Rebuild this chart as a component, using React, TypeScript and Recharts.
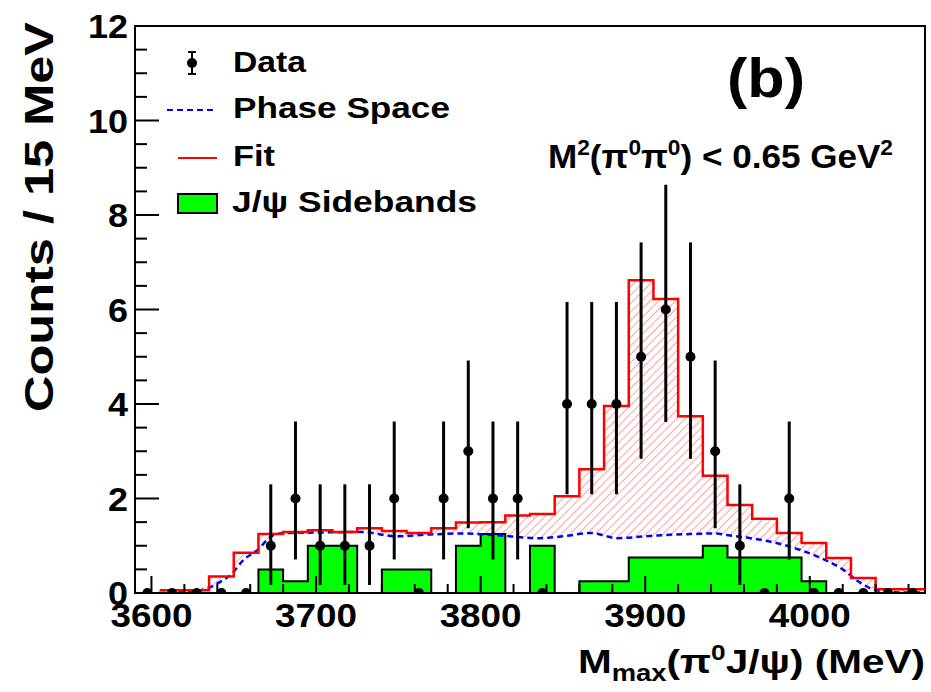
import React from "react";
import {
  ComposedChart,
  Area,
  Line,
  Scatter,
  ErrorBar,
  XAxis,
  YAxis,
  ReferenceArea,
} from "recharts";

// 15 MeV bins, M_max(pi0 J/psi)
const binEdges = [
  3590, 3605, 3620, 3635, 3650, 3665, 3680, 3695, 3710, 3725, 3740, 3755, 3770,
  3785, 3800, 3815, 3830, 3845, 3860, 3875, 3890, 3905, 3920, 3935, 3950, 3965,
  3980, 3995, 4010, 4025, 4040, 4055, 4070,
];

const counts = [
  0, 0, 0, 0, 0, 1, 2, 1, 1, 1, 2, 0, 2, 3, 2, 2, 0, 4, 4, 4, 5, 6, 5, 3, 1, 0,
  2, 0, 0, 0, 0, 0,
];
const errLow = [
  0, 0, 0, 0, 0, 0.83, 1.29, 0.83, 0.83, 0.83, 1.29, 0, 1.29, 1.63, 1.29, 1.29,
  0, 1.91, 1.91, 1.91, 2.16, 2.38, 2.16, 1.63, 0.83, 0, 1.29, 0, 0, 0, 0, 0,
];
const errHigh = [
  0, 0, 0, 0, 0, 1.3, 1.63, 1.3, 1.3, 1.3, 1.63, 0, 1.63, 1.92, 1.63, 1.63, 0,
  2.16, 2.16, 2.16, 2.42, 2.64, 2.42, 1.92, 1.3, 0, 1.63, 0, 0, 0, 0, 0,
];

const fitValues = [
  null, 0.06, 0.06, 0.35, 0.85, 1.25, 1.29, 1.33, 1.29, 1.37, 1.31, 1.27, 1.37,
  1.49, 1.5, 1.64, 1.67, 2.05, 2.62, 3.96, 6.62, 6.22, 3.74, 2.48, 1.86, 1.57,
  1.27, 1.06, 0.74, 0.32, 0.08, 0.08,
];

const sidebandValues = [
  0, 0, 0, 0, 0, 0.5, 0.25, 1, 1, 0, 0.5, 0.5, 0, 1, 1.25, 0, 1, 0, 0.25, 0.25,
  0.75, 0.75, 0.75, 1, 0.75, 0.75, 0.75, 0.25, 0, 0, 0, 0,
];

const psMass = [
  3604, 3620, 3630, 3634, 3641, 3648, 3656, 3665, 3672, 3678, 3700, 3728, 3749,
  3770, 3789, 3810, 3836, 3850, 3867, 3883, 3900, 3913, 3930, 3941, 3955, 3964,
  3984, 4004, 4020, 4031, 4041, 4055, 4070,
];
const psValue = [
  0, 0.02, 0.06, 0.1, 0.22, 0.38, 0.7, 0.93, 1.18, 1.26, 1.28, 1.29, 1.2, 1.24,
  1.26, 1.22, 1.16, 1.2, 1.27, 1.16, 1.2, 1.23, 1.25, 1.26, 1.2, 1.16, 1.02,
  0.78, 0.5, 0.21, 0.05, 0.01, 0.01,
];

const xTicks = [
  3600, 3620, 3640, 3660, 3680, 3700, 3720, 3740, 3760, 3780, 3800, 3820, 3840,
  3860, 3880, 3900, 3920, 3940, 3960, 3980, 4000, 4020, 4040, 4060,
];
const yTicks = [
  0, 0.5, 1, 1.5, 2, 2.5, 3, 3.5, 4, 4.5, 5, 5.5, 6, 6.5, 7, 7.5, 8, 8.5, 9,
  9.5, 10, 10.5, 11, 11.5, 12,
];

const FONT = "'Liberation Sans', Arial, Helvetica, sans-serif";

// histogram as step series (last edge repeats last bin)
const toSteps = (vals: (number | null)[]) =>
  binEdges.map((x, i) => ({ x, y: i < vals.length ? vals[i] : vals[vals.length - 1] }));

const fitSteps = toSteps(fitValues);
const sidebandSteps = toSteps(sidebandValues);
const phaseSpace = psMass.map((x, i) => ({ x, y: psValue[i] }));
const dataPoints = counts.map((c, i) => ({
  x: (binEdges[i] + binEdges[i + 1]) / 2,
  y: c,
  err: [errLow[i], errHigh[i]],
}));

const YTick = (props: any) => {
  const { x, y, payload } = props;
  const v = payload.value;
  const major = v % 2 === 0;
  return (
    <g>
      <line x1={x} x2={x + (major ? 24 : 12)} y1={y} y2={y} stroke="#000" strokeWidth={2} />
      {major && (
        <text
          x={x - 7}
          y={y + 12}
          textAnchor="end"
          fontFamily={FONT}
          fontWeight="bold"
          fontSize={33}
          textLength={20 * String(v).length}
          lengthAdjust="spacingAndGlyphs"
          fill="#000"
        >
          {v}
        </text>
      )}
    </g>
  );
};

const XTick = (props: any) => {
  const { x, y, payload } = props;
  const v = payload.value;
  const major = v % 100 === 0;
  return (
    <g>
      <line x1={x} x2={x} y1={y} y2={y - (major ? 17 : 9)} stroke="#000" strokeWidth={2} />
      {major && (
        <text
          x={x}
          y={y + 34}
          textAnchor="middle"
          fontFamily={FONT}
          fontWeight="bold"
          fontSize={33}
          textLength={82}
          lengthAdjust="spacingAndGlyphs"
          fill="#000"
        >
          {v}
        </text>
      )}
    </g>
  );
};

const Dot = (p: any) => <circle cx={p.cx} cy={p.cy} r={5} fill="#000" />;

export default function App() {
  const txt = { fontFamily: FONT, fontWeight: "bold" as const, fill: "#000" };
  return (
    <div style={{ position: "absolute", left: 0, top: 0, width: 931, height: 692, background: "#fff" }}>
      <svg width={0} height={0} style={{ position: "absolute" }}>
        <defs>
          <pattern id="hatch" width={6} height={6} patternUnits="userSpaceOnUse" patternTransform="rotate(45)">
            <line x1={0} y1={0} x2={0} y2={6} stroke="#ff6060" strokeWidth={1.2} />
          </pattern>
        </defs>
      </svg>
      <ComposedChart width={931} height={692} margin={{ top: 26, right: 6, bottom: 0, left: 0 }}>
        <XAxis
          dataKey="x"
          type="number"
          domain={[3590, 4070]}
          allowDataOverflow
          ticks={xTicks}
          interval={0}
          tickSize={0}
          tickMargin={0}
          tickLine={false}
          tick={<XTick />}
          height={99}
          axisLine={{ stroke: "#000", strokeWidth: 2 }}
        />
        <YAxis
          type="number"
          domain={[0, 12]}
          allowDataOverflow
          ticks={yTicks}
          interval={0}
          tickSize={0}
          tickMargin={0}
          tickLine={false}
          tick={<YTick />}
          width={135}
          axisLine={{ stroke: "#000", strokeWidth: 2 }}
        />
        <Area
          data={fitSteps}
          dataKey="y"
          type="stepAfter"
          fill="url(#hatch)"
          fillOpacity={1}
          stroke="none"
          isAnimationActive={false}
        />
        <Area
          data={phaseSpace}
          dataKey="y"
          type="monotone"
          fill="#fff"
          fillOpacity={1}
          stroke="none"
          isAnimationActive={false}
        />
        <Area
          data={sidebandSteps}
          dataKey="y"
          type="stepAfter"
          fill="#00ff00"
          fillOpacity={1}
          stroke="#000"
          strokeWidth={2}
          isAnimationActive={false}
        />
        <Line
          data={phaseSpace}
          dataKey="y"
          type="monotone"
          stroke="#0000ff"
          strokeWidth={2.5}
          strokeDasharray="6 4"
          dot={false}
          isAnimationActive={false}
        />
        <Line
          data={fitSteps}
          dataKey="y"
          type="stepAfter"
          stroke="#ff0000"
          strokeWidth={2.5}
          dot={false}
          isAnimationActive={false}
        />
        <Scatter data={dataPoints} dataKey="y" shape={<Dot />} isAnimationActive={false}>
          <ErrorBar dataKey="err" direction="y" width={0} stroke="#000" strokeWidth={3} />
        </Scatter>
        <ReferenceArea
          x1={3590}
          x2={4070}
          y1={0}
          y2={12}
          fill="none"
          fillOpacity={0}
          stroke="#000"
          strokeWidth={2}
          ifOverflow="visible"
        />
      </ComposedChart>

      {/* legend, labels and titles */}
      <svg
        width={931}
        height={692}
        style={{ position: "absolute", left: 0, top: 0, pointerEvents: "none" }}
      >
        {/* legend */}
        <line x1={192} x2={192} y1={52} y2={74} stroke="#000" strokeWidth={2} />
        <line x1={188} x2={196} y1={52} y2={52} stroke="#000" strokeWidth={2} />
        <line x1={188} x2={196} y1={74} y2={74} stroke="#000" strokeWidth={2} />
        <circle cx={192} cy={63} r={5} fill="#000" />
        <text x={233} y={72} fontSize={30} textLength={73} lengthAdjust="spacingAndGlyphs" {...txt}>
          Data
        </text>
        <line x1={167} x2={215} y1={110} y2={110} stroke="#0000ff" strokeWidth={2} strokeDasharray="6 4" />
        <text x={233} y={118} fontSize={30} textLength={217} lengthAdjust="spacingAndGlyphs" {...txt}>
          Phase Space
        </text>
        <line x1={178} x2={217} y1={158} y2={158} stroke="#ff0000" strokeWidth={2} />
        <text x={233} y={166} fontSize={30} textLength={42} lengthAdjust="spacingAndGlyphs" {...txt}>
          Fit
        </text>
        <rect x={178} y={194} width={39} height={19} fill="#00ff00" stroke="#000" strokeWidth={2} />
        <text x={232} y={212} fontSize={30} textLength={245} lengthAdjust="spacingAndGlyphs" {...txt}>
          J/ψ Sidebands
        </text>

        {/* annotations */}
        <text x={727} y={97} fontSize={55} textLength={78} lengthAdjust="spacingAndGlyphs" {...txt}>
          (b)
        </text>
        <text x={548} y={168} fontSize={34} textLength={345} lengthAdjust="spacingAndGlyphs" {...txt}>
          M<tspan fontSize={22} dy={-13}>2</tspan>
          <tspan dy={13}>(π</tspan>
          <tspan fontSize={22} dy={-13}>0</tspan>
          <tspan dy={13}>π</tspan>
          <tspan fontSize={22} dy={-13}>0</tspan>
          <tspan dy={13}>) &lt; 0.65 GeV</tspan>
          <tspan fontSize={22} dy={-13}>2</tspan>
        </text>

        {/* axis titles */}
        <text
          transform="translate(53, 22) rotate(-90)"
          textAnchor="end"
          fontSize={40}
          textLength={390}
          lengthAdjust="spacingAndGlyphs"
          {...txt}
        >
          Counts / 15 MeV
        </text>
        <text
          x={925}
          y={673}
          textAnchor="end"
          fontSize={34}
          textLength={347}
          lengthAdjust="spacingAndGlyphs"
          {...txt}
        >
          M<tspan fontSize={23} dy={8}>max</tspan>
          <tspan dy={-8}>(π</tspan>
          <tspan fontSize={22} dy={-13}>0</tspan>
          <tspan dy={13}>J/ψ) (MeV)</tspan>
        </text>
      </svg>
    </div>
  );
}
